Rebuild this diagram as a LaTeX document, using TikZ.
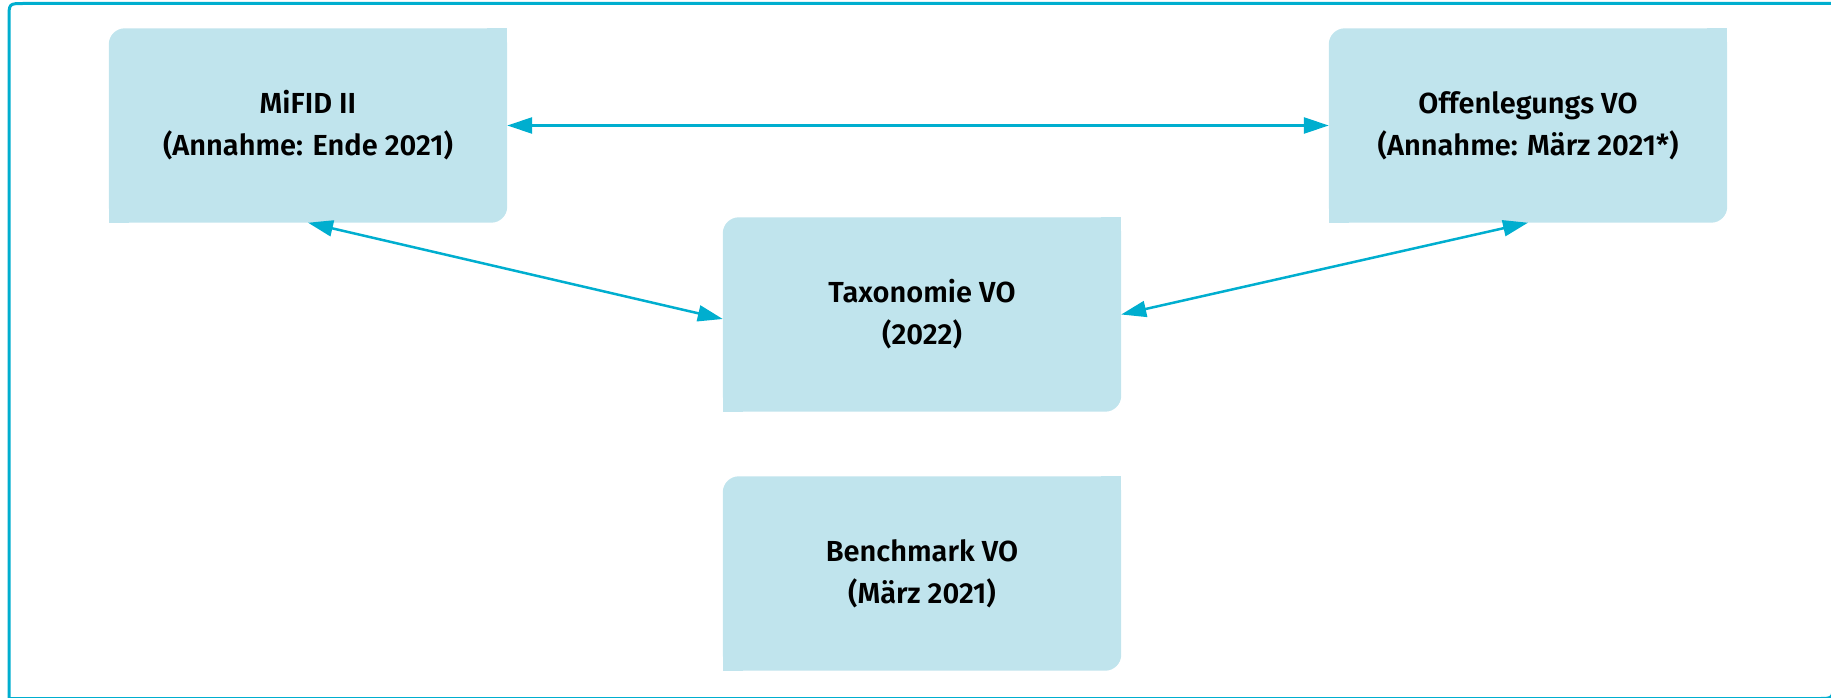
\documentclass[tikz,border=0pt]{standalone}
\usepackage{fontspec}
\setmainfont{Fira Sans}[UprightFont=* SemiBold]
\usetikzlibrary{arrows.meta,backgrounds}
\definecolor{vocyan}{RGB}{0,174,207}
\definecolor{vofill}{RGB}{192,228,237}
\tikzset{
  vobox/.style={minimum width=398pt, minimum height=194pt, inner sep=0pt, align=center, font=\fontsize{29}{42}\selectfont},
  volink/.style={vocyan, line width=2.5pt, {Triangle[length=25pt,width=16pt]}-{Triangle[length=25pt,width=16pt]}}
}
\begin{document}
\begin{tikzpicture}[x=1pt,y=1pt,yscale=-1,xscale=1]
    \useasboundingbox (0,0) rectangle (1831,698);

    %Shape: Frame
    \draw [vocyan, line width=3pt] (9,698.5) -- (9,18.5) .. controls (9,3.5) .. (24,3.5) -- (1833,3.5) -- (1833,683.5) .. controls (1833,698.5) .. (1818,698.5) -- cycle ;

    % Text Node
    \node [vobox] (mifid) at (308,125.5) {MiFID II\\(Annahme: Ende 2021)};
    % Text Node
    \node [vobox] (offen) at (1528,125.5) {Offenlegungs VO\\(Annahme: März 2021*)};
    % Text Node
    \node [vobox] (taxo) at (922,314.5) {Taxonomie VO\\(2022)};
    % Text Node
    \node [vobox] (bench) at (922,573.5) {Benchmark VO\\(März 2021)};

    %Shape: Boxes, round top left and bottom right
    \begin{pgfonlayer}{background}
    \foreach \n in {mifid,offen,taxo,bench}{
      \fill [vofill, rounded corners=16pt] (\n.south west) rectangle (\n.north east);
      \fill [vofill] (\n.north east) rectangle ([xshift=-20pt,yshift=20pt]\n.north east);
      \fill [vofill] (\n.south west) rectangle ([xshift=20pt,yshift=-20pt]\n.south west);
    }
    \end{pgfonlayer}

    %Straight Lines
    \draw [volink] (mifid) -- (offen);
    \draw [volink] (mifid.south) -- ([yshift=4.5pt]taxo.west);
    \draw [volink] (offen.south) -- (taxo.east);

\end{tikzpicture}
\end{document}
